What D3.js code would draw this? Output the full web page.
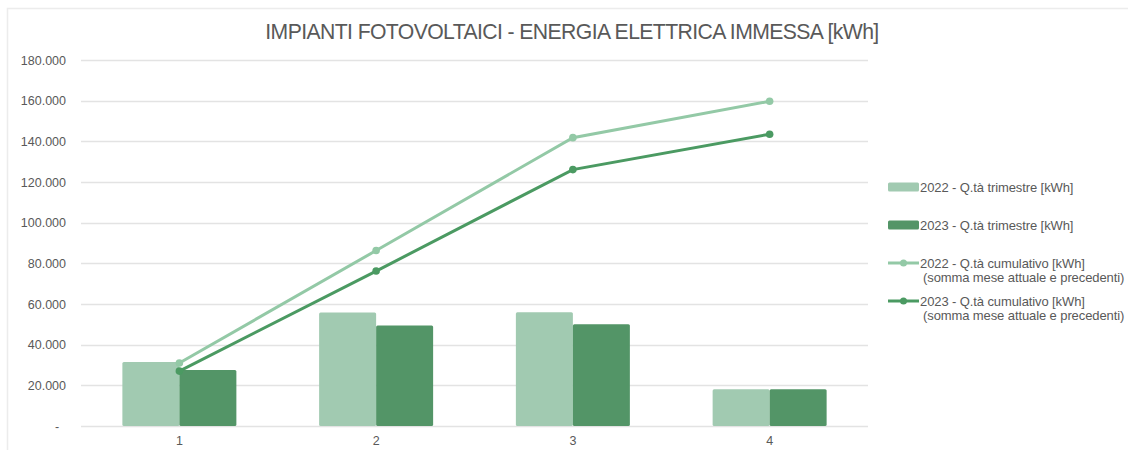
<!DOCTYPE html>
<html>
<head>
<meta charset="utf-8">
<script src="https://cdn.jsdelivr.net/npm/d3@7"></script>
<style>
    body { margin: 0; background: #fff; font-family: "Liberation Sans", Arial, sans-serif; }
    #chart { width: 1128px; height: 450px; }
</style>
</head>
<body>
<div id="chart"></div>
<script>
const quarters = ['1', '2', '3', '4'];
const qty2022 = [31500, 55800, 56000, 18100];
const qty2023 = [27600, 49400, 50100, 18100];
const cum2022 = [31000, 86300, 141800, 159700];
const cum2023 = [27000, 76200, 126100, 143500];
const yTicks = [0, 20000, 40000, 60000, 80000, 100000, 120000, 140000, 160000, 180000];
const legendLabels = [
    ['2022 - Q.tà trimestre [kWh]'],
    ['2023 - Q.tà trimestre [kWh]'],
    ['2022 - Q.tà cumulativo [kWh]', '(somma mese attuale e precedenti)'],
    ['2023 - Q.tà cumulativo [kWh]', '(somma mese attuale e precedenti)']
];

const colors = {
    bar2022: '#a1cab1',
    bar2023: '#539567',
    line2022: '#93c9a6',
    line2023: '#4b9a62',
    grid: '#e3e3e3',
    text: '#595959'
};

const width = 1128;
const height = 450;
const margin = { top: 60, right: 260, bottom: 24, left: 81 };

const svg = d3.select('#chart')
    .append('svg')
    .attr('width', width)
    .attr('height', height);

// chart area frame
svg.append('path')
    .attr('d', `M7.5,${height} V8.5 H${width}`)
    .attr('fill', 'none')
    .attr('stroke', '#ececec')
    .attr('stroke-width', 1.5);

svg.append('text')
    .attr('x', 572)
    .attr('y', 39)
    .attr('text-anchor', 'middle')
    .style('font-size', '21.2px')
    .style('letter-spacing', '-0.6px')
    .style('fill', colors.text)
    .text('IMPIANTI FOTOVOLTAICI - ENERGIA ELETTRICA IMMESSA [kWh]');

const x = d3.scaleBand()
    .domain(quarters)
    .range([margin.left, 868])
    .paddingInner(0)
    .paddingOuter(0);

const y = d3.scaleLinear()
    .domain([0, 180000])
    .range([426, 60]);

const fmt = d => d === 0 ? '-' : d3.format(',')(d).replace(/,/g, '.');

// gridlines
svg.append('g')
    .selectAll('line')
    .data(yTicks)
    .enter()
    .append('line')
    .attr('x1', x.range()[0])
    .attr('x2', x.range()[1])
    .attr('y1', d => Math.round(y(d)) + 0.5)
    .attr('y2', d => Math.round(y(d)) + 0.5)
    .attr('stroke', colors.grid)
    .attr('stroke-width', 1.3);

svg.append('g')
    .selectAll('text')
    .data(yTicks)
    .enter()
    .append('text')
    .attr('x', d => d === 0 ? 57 : 66)
    .attr('y', d => y(d) + 4.5)
    .attr('text-anchor', d => d === 0 ? 'middle' : 'end')
    .style('font-size', '12.5px')
    .style('fill', colors.text)
    .text(fmt);

// x labels
svg.append('g')
    .selectAll('text')
    .data(quarters)
    .enter()
    .append('text')
    .attr('x', d => x(d) + x.bandwidth() / 2)
    .attr('y', 445)
    .attr('text-anchor', 'middle')
    .style('font-size', '12.5px')
    .style('fill', colors.text)
    .text(d => d);

const barW = 57;
const barSeries = [
    { values: qty2022, color: colors.bar2022, offset: -barW },
    { values: qty2023, color: colors.bar2023, offset: 0 }
];

barSeries.forEach(s => {
    svg.append('g')
        .selectAll('rect')
        .data(quarters)
        .enter()
        .append('rect')
        .attr('x', (d, i) => x(d) + x.bandwidth() / 2 + s.offset)
        .attr('y', (d, i) => y(s.values[i]))
        .attr('width', barW)
        .attr('height', (d, i) => y(0) - y(s.values[i]))
        .attr('rx', 1.5)
        .attr('fill', s.color);
});

const lineSeries = [
    { values: cum2022, color: colors.line2022 },
    { values: cum2023, color: colors.line2023 }
];

const line = d3.line()
    .x(d => x(d.q) + x.bandwidth() / 2)
    .y(d => y(d.v));

lineSeries.forEach(s => {
    const pts = quarters.map((q, i) => ({ q, v: s.values[i] }));
    svg.append('path')
        .datum(pts)
        .attr('fill', 'none')
        .attr('stroke', s.color)
        .attr('stroke-width', 3)
        .attr('d', line);
    svg.append('g')
        .selectAll('circle')
        .data(pts)
        .enter()
        .append('circle')
        .attr('cx', d => x(d.q) + x.bandwidth() / 2)
        .attr('cy', d => y(d.v))
        .attr('r', 3.8)
        .attr('fill', s.color);
});

// legend
const legendY = [187, 225, 263, 301];
const legend = svg.append('g');

legendLabels.forEach((lines, i) => {
    const g = legend.append('g').attr('transform', `translate(888, ${legendY[i]})`);
    if (i < 2) {
        g.append('rect')
            .attr('x', 0)
            .attr('y', -4.5)
            .attr('width', 31)
            .attr('height', 9)
            .attr('rx', 1.5)
            .attr('fill', i === 0 ? colors.bar2022 : colors.bar2023);
    } else {
        const c = i === 2 ? colors.line2022 : colors.line2023;
        g.append('line')
            .attr('x1', 0)
            .attr('x2', 31)
            .attr('y1', 0)
            .attr('y2', 0)
            .attr('stroke', c)
            .attr('stroke-width', 3);
        g.append('circle')
            .attr('cx', 15.5)
            .attr('cy', 0)
            .attr('r', 3.5)
            .attr('fill', c);
    }
    lines.forEach((t, j) => {
        g.append('text')
            .attr('x', j === 0 ? 32 : 35)
            .attr('y', 4.5 + j * 14)
            .style('font-size', '13px')
            .style('letter-spacing', '-0.1px')
            .style('fill', colors.text)
            .text(t);
    });
});
</script>
</body>
</html>
